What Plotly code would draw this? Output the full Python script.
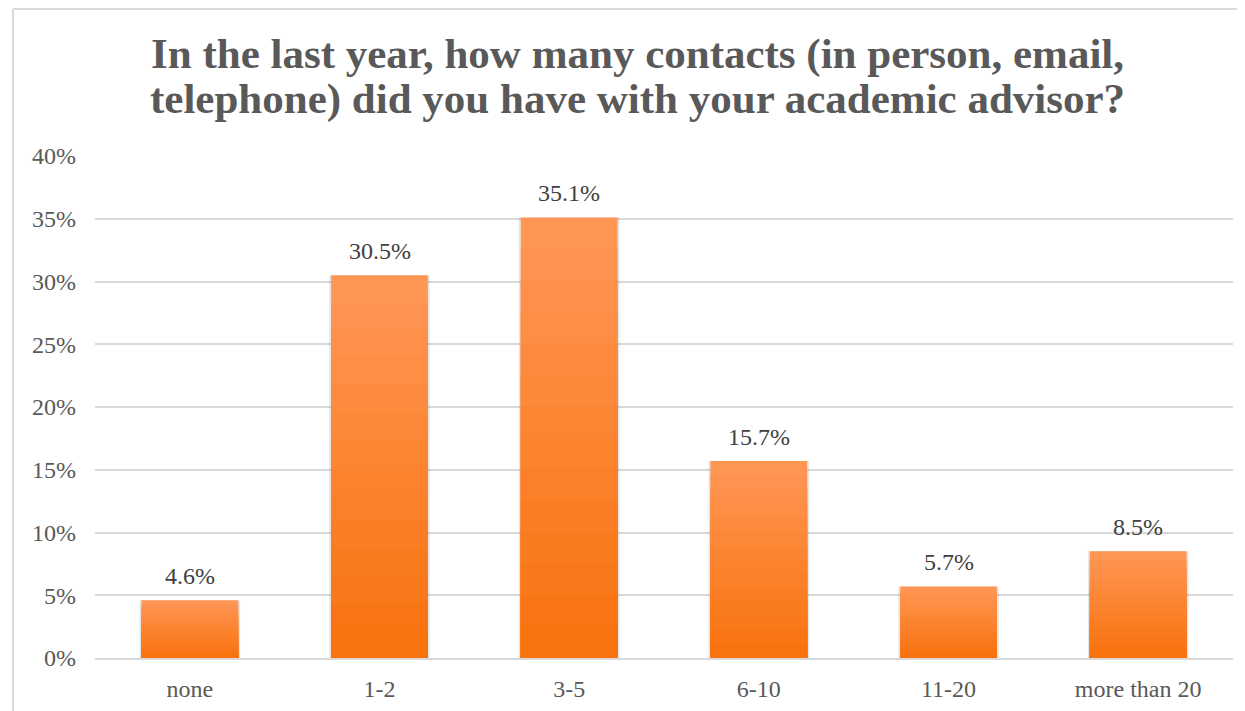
import plotly.graph_objects as go

categories = ["none", "1-2", "3-5", "6-10", "11-20", "more than 20"]
values = [4.6, 30.5, 35.1, 15.7, 5.7, 8.5]
tick_vals = [0, 5, 10, 15, 20, 25, 30, 35, 40]
tick_text = ["0%", "5%", "10%", "15%", "20%", "25%", "30%", "35%", "40%"]
title_lines = ["In the last year, how many contacts (in person, email,",
               "telephone) did you have with your academic advisor?"]

W, H = 1245, 711
OFF = 8  # page body margin
L, R, T, B = 95 - OFF, 1245 - (1233 - OFF), 156 - OFF, 711 - (658 - OFF)
pw, ph = W - L - R, H - T - B

light = (255, 150, 84)
dark = (248, 114, 14)
N = 14
BAR_W = 0.51

fig = go.Figure()
# soft shadow behind bars
fig.add_trace(go.Bar(
    x=categories, y=[v + 0.25 for v in values], base=-0.25,
    width=BAR_W + 0.02,
    marker=dict(color="rgba(0,0,0,0.10)", line=dict(width=0)),
    hoverinfo="skip", showlegend=False,
))
for k in range(N):
    f = k / (N - 1)
    c = tuple(round(light[i] + (dark[i] - light[i]) * f) for i in range(3))
    frac = 1 - k / N
    fig.add_trace(go.Bar(
        x=categories,
        y=[v * frac for v in values],
        width=BAR_W,
        marker=dict(color="rgb(%d,%d,%d)" % c, line=dict(width=0)),
        hoverinfo="skip",
        showlegend=False,
    ))

def px_x(x):
    return (x - OFF - L) / pw

def px_y(y):
    return (H - B - (y - OFF)) / ph

annotations = []
for cat, v in zip(categories, values):
    annotations.append(dict(
        x=cat, y=v, xref="x", yref="y", text=f"{v:.1f}%",
        showarrow=False, yanchor="bottom", yshift=9,
        font=dict(family="Liberation Serif", size=24, color="#404040"),
    ))
for i, line in enumerate(title_lines):
    annotations.append(dict(
        x=px_x(637), y=px_y(70 + 45 * i), xref="paper", yref="paper",
        text="<b>" + line + "</b>", showarrow=False,
        xanchor="center", yanchor="bottom", yshift=-10,
        font=dict(family="Liberation Serif", size=43, color="#595959"),
    ))

fig.update_layout(
    width=W, height=H,
    margin=dict(l=L, r=R, t=T, b=B),
    barmode="overlay",
    plot_bgcolor="white",
    paper_bgcolor="white",
    xaxis=dict(
        showgrid=False,
        showline=True, linecolor="#d9d9d9", linewidth=2,
        ticks="", ticklabelstandoff=8,
        tickfont=dict(family="Liberation Serif", size=24, color="#595959"),
    ),
    yaxis=dict(
        range=[0, 40],
        tickvals=tick_vals, ticktext=tick_text,
        showgrid=True, gridcolor="#d9d9d9", gridwidth=1.5,
        zeroline=False, showline=False,
        ticks="", ticklabelstandoff=18,
        tickfont=dict(family="Liberation Serif", size=24, color="#595959"),
    ),
    annotations=annotations,
    shapes=[
        dict(type="line", xref="paper", yref="paper",
             x0=px_x(13), x1=px_x(13), y0=px_y(9), y1=px_y(H + 20),
             line=dict(color="#d9d9d9", width=2)),
        dict(type="line", xref="paper", yref="paper",
             x0=px_x(13), x1=px_x(W + 20), y0=px_y(9), y1=px_y(9),
             line=dict(color="#d9d9d9", width=2)),
    ],
)

fig.write_html("out.html")
